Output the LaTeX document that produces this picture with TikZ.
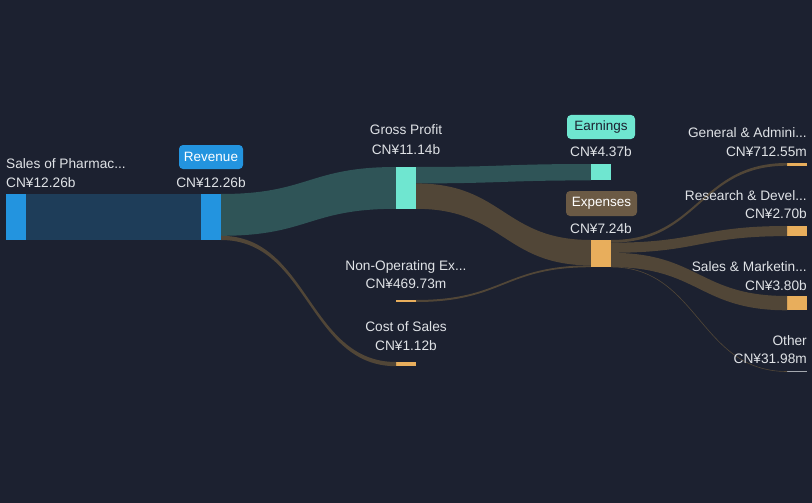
\documentclass[tikz,border=0pt]{standalone}
\usepackage{fontspec}
\setmainfont{Liberation Sans}
\usetikzlibrary{calc}
\definecolor{bg}{HTML}{1C2130}
\definecolor{cblue}{HTML}{2394DF}
\definecolor{lblue}{HTML}{1E3D59}
\definecolor{cteal}{HTML}{6FE6D0}
\definecolor{lteal}{HTML}{2F5457}
\definecolor{corange}{HTML}{E8AE5C}
\definecolor{lbrown}{HTML}{514637}
\definecolor{bbrown}{HTML}{6B5A45}
\definecolor{txt}{HTML}{DFE2E6}
\newcommand{\sankeyband}[5]{%
  \fill[#1] let \p1=(#2), \p2=(#3), \p3=(#4), \p4=(#5) in
    (\p1) .. controls ({(\x1+\x3)/2},\y1) and ({(\x1+\x3)/2},\y3) .. (\p3)
    -- (\p4) .. controls ({(\x1+\x3)/2},\y4) and ({(\x1+\x3)/2},\y2) .. (\p2) -- cycle;}
\begin{document}
\begin{tikzpicture}[x=1pt,y=-1pt,
  bar/.style={inner sep=0pt,outer sep=0pt,minimum width=20pt,anchor=north west},
  lab/.style={text=txt,font=\fontsize{13.7}{16}\selectfont,inner sep=0pt},
  tag/.style={rounded corners=4pt,inner sep=0pt,font=\fontsize{13.5}{16}\selectfont}]
\fill[bg] (0,0) rectangle (812,503);
\useasboundingbox (0,0) rectangle (812,503);
% nodes
\node[bar,fill=cblue,minimum height=46pt] (sales) at (6,194) {};
\node[bar,fill=cblue,minimum height=46pt] (rev) at (201,194) {};
\node[bar,fill=cteal,minimum height=41.8pt] (gp) at (396,167) {};
\node[bar,fill=corange,minimum height=2pt] (nonop) at (396,300) {};
\node[bar,fill=corange,minimum height=4.2pt] (cos) at (396,362) {};
\node[bar,fill=cteal,minimum height=16.4pt] (earn) at (591,164) {};
\node[bar,fill=corange,minimum height=27.2pt] (exp) at (591,240) {};
\node[bar,fill=corange,minimum height=2.7pt] (ga) at (787,163) {};
\node[bar,fill=corange,minimum height=10.1pt] (rd) at (787,226) {};
\node[bar,fill=corange,minimum height=14.3pt] (sm) at (787,296) {};
\node[bar,fill=txt!70!bg,minimum height=1pt] (oth) at (787,371) {};
% flows
\fill[lblue] (sales.north east) rectangle (rev.south west);
\sankeyband{lteal}{rev.north east}{$(rev.north east)+(0,41.8)$}{gp.north west}{gp.south west}
\sankeyband{lbrown}{$(rev.north east)+(0,41.8)$}{rev.south east}{cos.north west}{cos.south west}
\sankeyband{lteal}{gp.north east}{$(gp.north east)+(0,16.4)$}{earn.north west}{earn.south west}
\sankeyband{lbrown}{$(gp.north east)+(0,16.4)$}{gp.south east}{exp.north west}{$(exp.north west)+(0,25.4)$}
\sankeyband{lbrown}{nonop.north east}{nonop.south east}{$(exp.north west)+(0,25.4)$}{exp.south west}
\sankeyband{lbrown}{exp.north east}{$(exp.north east)+(0,2.7)$}{ga.north west}{ga.south west}
\sankeyband{lbrown}{$(exp.north east)+(0,2.7)$}{$(exp.north east)+(0,12.8)$}{rd.north west}{rd.south west}
\sankeyband{lbrown}{$(exp.north east)+(0,12.8)$}{$(exp.north east)+(0,27.1)$}{sm.north west}{sm.south west}
\draw[lbrown,line width=0.6pt] let \p1=(exp.south east), \p2=(oth.west) in
  ($(exp.south east)+(0,-0.3)$) .. controls ({(\x1+\x2)/2},\y1) and ({(\x1+\x2)/2},\y2) .. (oth.west);
% redraw nodes on top
\fill[cblue] (sales.north west) rectangle (sales.south east);
\fill[cblue] (rev.north west) rectangle (rev.south east);
\fill[cteal] (gp.north west) rectangle (gp.south east);
\fill[cteal] (earn.north west) rectangle (earn.south east);
\fill[corange] (exp.north west) rectangle (exp.south east);
% labels
\node[lab,anchor=base west] (tsales) at (6,168) {Sales of Pharmac...};
\node[lab,anchor=base west] (vsales) at (6,187) {CN¥12.26b};
\node[tag,fill=cblue,text=white,minimum width=64pt,minimum height=24pt] (trev) at (211,157) {Revenue};
\node[lab,anchor=base] (vrev) at (211,187) {CN¥12.26b};
\node[lab,anchor=base] (tgp) at (406,135) {Gross Profit};
\node[lab,anchor=base] (vgp) at (406,154) {CN¥11.14b};
\node[lab,anchor=base] (tnonop) at (406,270) {Non-Operating Ex...};
\node[lab,anchor=base] (vnonop) at (406,288) {CN¥469.73m};
\node[lab,anchor=base] (tcos) at (406,331) {Cost of Sales};
\node[lab,anchor=base] (vcos) at (406,350) {CN¥1.12b};
\node[tag,fill=cteal,text=bg,minimum width=68pt,minimum height=24pt] (tearn) at (601,127) {Earnings};
\node[lab,anchor=base] (vearn) at (601,157) {CN¥4.37b};
\node[tag,fill=bbrown,text=white,minimum width=71pt,minimum height=25pt] (texp) at (601.5,203.5) {Expenses};
\node[lab,anchor=base] (vexp) at (601,233) {CN¥7.24b};
\node[lab,anchor=base east] (tga) at (807,138) {General \& Admini...};
\node[lab,anchor=base east] (vga) at (807,157) {CN¥712.55m};
\node[lab,anchor=base east] (trd) at (807,200) {Research \& Devel...};
\node[lab,anchor=base east] (vrd) at (807,218) {CN¥2.70b};
\node[lab,anchor=base east] (tsm) at (807,271) {Sales \& Marketin...};
\node[lab,anchor=base east] (vsm) at (807,290) {CN¥3.80b};
\node[lab,anchor=base east] (toth) at (807,345) {Other};
\node[lab,anchor=base east] (voth) at (807,363) {CN¥31.98m};
\end{tikzpicture}
\end{document}
